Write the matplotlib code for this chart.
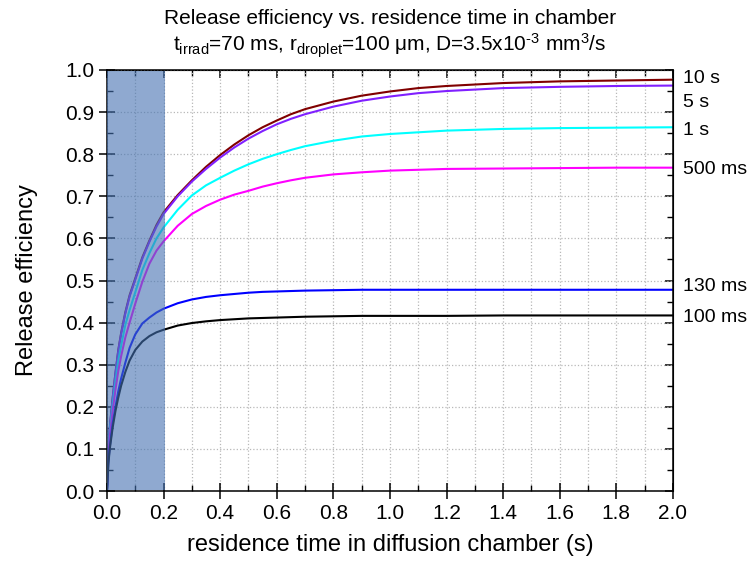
"""
Release efficiency vs. residence time in the diffusion chamber,
one curve per irradiation pulse length.
"""

import numpy as np
import matplotlib
matplotlib.use('Agg')
import matplotlib.pyplot as plt
from matplotlib.ticker import MultipleLocator

plt.rcParams['font.family'] = ['Liberation Sans', 'DejaVu Sans']
plt.rcParams['mathtext.fontset'] = 'custom'
plt.rcParams['mathtext.rm'] = 'Liberation Sans'
plt.rcParams['mathtext.default'] = 'regular'

t = [0, 0.005, 0.01, 0.02, 0.03, 0.04, 0.05, 0.065, 0.08, 0.1, 0.125, 0.15,
     0.175, 0.2, 0.25, 0.3, 0.35, 0.4, 0.45, 0.5, 0.55, 0.6, 0.65, 0.7, 0.8,
     0.9, 1.0, 1.1, 1.2, 1.4, 1.6, 1.8, 2.0]

eff_10s = [0, 0.10, 0.15, 0.22, 0.28, 0.335, 0.375, 0.425, 0.465, 0.505,
           0.555, 0.595, 0.632, 0.662, 0.703, 0.738, 0.770, 0.798, 0.823,
           0.845, 0.864, 0.880, 0.895, 0.907, 0.925, 0.939, 0.949, 0.957,
           0.962, 0.969, 0.973, 0.975, 0.977]
eff_5s = [0, 0.10, 0.15, 0.22, 0.28, 0.333, 0.373, 0.422, 0.462, 0.502,
          0.552, 0.592, 0.628, 0.658, 0.700, 0.735, 0.765, 0.792, 0.816,
          0.837, 0.855, 0.871, 0.884, 0.895, 0.913, 0.927, 0.937, 0.945,
          0.950, 0.957, 0.960, 0.962, 0.963]
eff_1s = [0, 0.09, 0.14, 0.205, 0.26, 0.31, 0.345, 0.395, 0.43, 0.472,
          0.525, 0.565, 0.600, 0.626, 0.668, 0.702, 0.726, 0.744, 0.761,
          0.776, 0.789, 0.800, 0.810, 0.819, 0.832, 0.842, 0.848, 0.852,
          0.856, 0.860, 0.862, 0.863, 0.864]
eff_500ms = [0, 0.085, 0.13, 0.19, 0.24, 0.285, 0.32, 0.365, 0.40, 0.445,
             0.497, 0.54, 0.571, 0.593, 0.630, 0.658, 0.677, 0.692, 0.704,
             0.713, 0.723, 0.731, 0.738, 0.744, 0.752, 0.757, 0.761, 0.763,
             0.765, 0.766, 0.767, 0.768, 0.768]
eff_130ms = [0, 0.07, 0.105, 0.16, 0.20, 0.237, 0.267, 0.305, 0.34, 0.372,
             0.398, 0.412, 0.424, 0.433, 0.446, 0.455, 0.461, 0.465, 0.468,
             0.471, 0.473, 0.474, 0.475, 0.476, 0.477, 0.478, 0.478, 0.478,
             0.478, 0.478, 0.478, 0.478, 0.478]
eff_100ms = [0, 0.065, 0.10, 0.15, 0.19, 0.222, 0.25, 0.283, 0.31, 0.335,
             0.355, 0.368, 0.377, 0.383, 0.393, 0.399, 0.403, 0.406, 0.408,
             0.410, 0.411, 0.412, 0.413, 0.414, 0.415, 0.416, 0.416, 0.416,
             0.416, 0.417, 0.417, 0.417, 0.417]

series = [eff_10s, eff_5s, eff_1s, eff_500ms, eff_130ms, eff_100ms]
labels = ['10 s', '5 s', '1 s', '500 ms', '130 ms', '100 ms']
label_y = [0.980, 0.922, 0.856, 0.763, 0.485, 0.412]
colors = ['#800000', '#8020ff', '#00ffff', '#ff00ff', '#0000ff', '#000000']

irrad_window = 0.205  # shaded region, s

fig = plt.figure(figsize=(7.48, 5.64), dpi=100, facecolor='white')
ax = fig.add_axes([0.1430, 0.1294, 0.7567, 0.7465])

for y, c in zip(series, colors):
    ax.plot(t, y, color=c, lw=1.5, zorder=2, solid_joinstyle='round')

ax.axvspan(0, irrad_window, ymin=0.003, ymax=0.997,
           color='#4471b1', alpha=0.6, lw=0, zorder=3)

for lab, ly in zip(labels, label_y):
    ax.text(1.018, ly, lab, transform=ax.get_yaxis_transform(),
            ha='left', va='center', fontsize=14)

ax.set_xlim(0, 2.0)
ax.set_ylim(0, 1.0)
ax.xaxis.set_major_locator(MultipleLocator(0.2))
ax.xaxis.set_minor_locator(MultipleLocator(0.1))
ax.yaxis.set_major_locator(MultipleLocator(0.1))
ax.yaxis.set_minor_locator(MultipleLocator(0.05))
ax.xaxis.set_major_formatter(lambda v, p: f'{v:.1f}')
ax.yaxis.set_major_formatter(lambda v, p: f'{v:.1f}')

ax.grid(True, which='major', axis='y', color='#b8b8b8', ls=':', lw=0.9)
ax.grid(True, which='both', axis='x', color='#b8b8b8', ls=':', lw=0.9)

ax.tick_params(which='major', direction='inout', length=12, width=1.1,
               labelsize=15, pad=3)
ax.tick_params(which='minor', direction='in', length=4, width=1.0)
for s in ax.spines.values():
    s.set_linewidth(1.1)

# top and right: inward ticks, no labels
top = ax.secondary_xaxis('top')
top.xaxis.set_major_locator(MultipleLocator(0.2))
top.xaxis.set_minor_locator(MultipleLocator(0.1))
top.tick_params(which='major', direction='in', length=6, width=1.1,
                labeltop=False)
top.tick_params(which='minor', direction='in', length=4, width=1.0)
right = ax.secondary_yaxis('right')
right.yaxis.set_major_locator(MultipleLocator(0.1))
right.yaxis.set_minor_locator(MultipleLocator(0.05))
right.tick_params(which='major', direction='in', length=6, width=1.1,
                  labelright=False)
right.tick_params(which='minor', direction='in', length=4, width=1.0)

ax.set_xlabel('residence time in diffusion chamber (s)', fontsize=17)
ax.set_ylabel('Release efficiency', fontsize=17)
ax.xaxis.set_label_coords(0.5, -0.128)
ax.xaxis.label.set_va('center')
ax.yaxis.set_label_coords(-0.141, 0.5)
ax.yaxis.label.set_va('center')

fig.text(0.521, 0.957, 'Release efficiency vs. residence time in chamber',
         ha='center', va='baseline', fontsize=15)
fig.text(0.521, 0.908,
         r't$_{irrad}$=70 ms, r$_{droplet}$=100 μm, '
         r'D=3.5x10$^{\text{-3}}$ mm$^{3}$/s',
         ha='center', va='baseline', fontsize=15)

fig.savefig('out.png', dpi=100, facecolor='white')
